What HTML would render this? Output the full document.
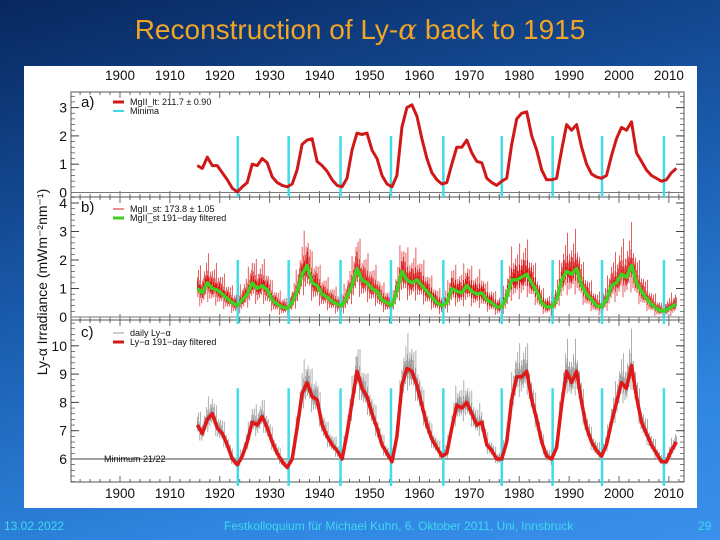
<!DOCTYPE html>
<html><head><meta charset="utf-8"><style>
html,body{margin:0;padding:0;width:720px;height:540px;overflow:hidden}
body{background:linear-gradient(165deg,#08275e 0%,#1a5cae 45%,#2f86e0 80%,#3a90ea 100%);font-family:"Liberation Sans",sans-serif;position:relative}
.t{position:absolute;white-space:nowrap}
</style></head><body>
<div class="t" style="left:0;width:720px;top:13px;text-align:center;font-size:28px;color:#f0a428">Reconstruction of Ly-<span style="font-family:'DejaVu Serif',serif;font-style:italic">α</span> back to 1915</div>
<svg id="fig" width="720" height="540" style="position:absolute;left:0;top:0" font-family="Liberation Sans, sans-serif"></svg>
<div class="t" style="left:4px;top:519px;font-size:12px;color:#40d8f0">13.02.2022</div>
<div class="t" style="left:224px;top:519px;font-size:12px;color:#40d8f0">Festkolloquium für Michael Kuhn, 6. Oktober 2011, Uni, Innsbruck</div>
<div class="t" style="left:698px;top:519px;font-size:12px;color:#40d8f0">29</div>
<script>
const startYear = 1915.5;
const mgLt = [0.95,0.85,1.25,0.95,0.95,0.7,0.45,0.15,0.02,0.2,0.35,1.0,0.95,1.2,1.05,0.55,0.35,0.25,0.2,0.3,0.8,1.7,1.85,1.9,1.1,0.95,0.75,0.45,0.25,0.2,0.5,1.5,2.1,2.05,2.1,1.5,1.2,0.6,0.3,0.2,0.6,2.3,3.0,3.1,2.7,1.9,1.2,0.7,0.45,0.3,0.35,1.0,1.6,1.6,1.85,1.4,1.1,1.05,0.5,0.35,0.25,0.4,0.5,1.7,2.6,2.8,2.85,2.0,1.5,0.8,0.45,0.45,0.5,1.5,2.4,2.2,2.4,1.6,1.0,0.65,0.55,0.5,0.6,1.3,1.9,2.3,2.2,2.5,1.4,1.1,0.8,0.6,0.5,0.4,0.45,0.7,0.85];
const mgStFiltered = [1.0,0.85,1.2,1.0,0.95,0.8,0.65,0.5,0.4,0.6,0.8,1.2,1.0,1.1,0.95,0.6,0.45,0.35,0.3,0.5,0.9,1.5,1.8,1.2,1.1,0.8,0.7,0.55,0.45,0.4,0.7,1.1,1.7,1.3,1.2,1.0,0.9,0.6,0.5,0.4,0.9,1.6,1.3,1.2,1.3,1.1,0.9,0.7,0.5,0.4,0.5,1.0,0.9,0.85,1.1,0.9,0.8,0.85,0.6,0.5,0.35,0.35,0.7,1.3,1.3,1.4,1.5,1.2,0.9,0.5,0.35,0.35,0.6,1.3,1.6,1.5,1.7,1.1,0.8,0.6,0.4,0.35,0.6,1.1,1.2,1.5,1.4,1.8,1.2,0.9,0.65,0.45,0.3,0.2,0.25,0.35,0.45];
const lyaFiltered = [7.2,6.9,7.4,7.6,7.1,6.9,6.5,6.0,5.8,6.1,6.6,7.3,7.2,7.5,7.1,6.6,6.2,5.9,5.7,6.0,7.1,8.3,8.7,8.2,8.1,7.2,6.8,6.5,6.3,6.0,6.9,8.0,9.1,8.5,8.2,7.6,7.1,6.5,6.2,5.9,6.8,8.6,9.2,9.1,8.6,7.9,7.2,6.7,6.4,6.1,6.2,7.1,7.9,7.8,8.0,7.6,7.2,7.3,6.5,6.3,6.0,6.0,6.6,8.1,8.9,8.9,9.1,8.1,7.4,6.6,6.1,6.0,6.4,7.9,9.1,8.7,9.1,8.0,7.1,6.6,6.3,6.1,6.5,7.3,8.0,8.7,8.5,9.3,8.2,7.3,6.9,6.5,6.2,5.9,5.9,6.3,6.6];
const minimaYears = [1923.6,1933.8,1944.2,1954.3,1964.8,1976.5,1986.7,1996.6,2009.0];
const yearTicks = [1900,1910,1920,1930,1940,1950,1960,1970,1980,1990,2000,2010];
const aTicks = [0,1,2,3];
const bTicks = [0,1,2,3,4];
const cTicks = [6,7,8,9,10];
const minimumLevel = 6;

const NS='http://www.w3.org/2000/svg', svg=document.getElementById('fig');
function el(tag,attrs,parent){const e=document.createElementNS(NS,tag);for(const k in attrs)e.setAttribute(k,attrs[k]);(parent||svg).appendChild(e);return e;}
const L=71,R=684;
const X=y=>120+(y-1900)*4.99;
const Ya=v=>192.5-v*28.3, Yb=v=>317-v*28.5, Yc=v=>459-(v-6)*28.3;

const bg=el('rect',{x:24,y:66,width:673,height:442,fill:'#fff'});



function frame(top,bot,name){const r=el('rect',{x:L,y:top,width:R-L,height:bot-top,fill:'none',stroke:'#555','stroke-width':1});


for(let y=1890;y<=2013;y+=2){const x=X(y);if(x<L||x>R)continue;const big=y%10==0;
el('line',{x1:x,x2:x,y1:top,y2:top+(big?6:3),stroke:'#444','stroke-width':0.8});
el('line',{x1:x,x2:x,y1:bot,y2:bot-(big?6:3),stroke:'#444','stroke-width':0.8});}}
frame(92,197,'panel-a-frame');frame(197,320,'panel-b-frame');frame(320,482,'panel-c-frame');

function yaxis(ticks,Y,top,bot,name,minor){ticks.forEach(v=>{const y=Y(v);
const t=el('text',{x:67,y:y+5,'text-anchor':'end','font-size':14,fill:'#111'});t.textContent=v;


el('line',{x1:L,x2:L+8,y1:y,y2:y,stroke:'#444'});el('line',{x1:R,x2:R-8,y1:y,y2:y,stroke:'#444'});});
for(let i=0;i<60;i++){const y=Y(ticks[0]-1+i*minor);if(y<top||y>bot)continue;el('line',{x1:L,x2:L+4,y1:y,y2:y,stroke:'#444','stroke-width':0.7});el('line',{x1:R,x2:R-4,y1:y,y2:y,stroke:'#444','stroke-width':0.7});}}
yaxis(aTicks,Ya,92,197,'panel-a-y',0.2);yaxis(bTicks,Yb,197,320,'panel-b-y',0.2);yaxis(cTicks,Yc,320,482,'panel-c-y',0.2);

yearTicks.forEach(y=>{[80,498].forEach(ty=>{const t=el('text',{x:X(y),y:ty,'text-anchor':'middle','font-size':13.5,fill:'#111'});t.textContent=y;

});});

el('line',{x1:L,x2:R,y1:Ya(0),y2:Ya(0),stroke:'#777'});
el('line',{x1:L,x2:R,y1:Yb(0),y2:Yb(0),stroke:'#777'});
const ml=el('line',{x1:L,x2:R,y1:Yc(minimumLevel),y2:Yc(minimumLevel),stroke:'#444'});



const pat=[0.9,-0.6,1.6,-0.3,0.5,-0.9,2.2,-0.5,0.2,-0.7,1.1,-0.4,0.7,-1.0,1.4,-0.2];
function interp(arr,t){const i=Math.floor(t),f=t-i;return arr[Math.min(i,arr.length-1)]*(1-f)+arr[Math.min(i+1,arr.length-1)]*f;}
function band(arr,Y,amp,color,w,name){const g=el('g',{});
let n=0;const end=arr.length-1;for(let t=0;t<=end;t+=0.1){const v=interp(arr,t);const a=amp(v);const p=pat[n%pat.length],q=pat[(n*7+3)%pat.length];n++;
el('line',{x1:X(startYear+t),x2:X(startYear+t),y1:Y(v+a*Math.abs(p)),y2:Y(v-a*Math.abs(q)*0.6),stroke:color,'stroke-width':w},g);}}
band(mgStFiltered,Yb,v=>0.12+v*0.32,'#d81818',0.7,'mgii-st-daily');
band(lyaFiltered,Yc,v=>0.1+(v-5.5)*0.13,'#9a9a9a',0.8,'lya-daily');

minimaYears.forEach(m=>{[[Ya(2),197],[Yb(2),324],[Yc(8.5),486]].forEach(([y1,y2])=>{const l=el('line',{x1:X(m),x2:X(m),y1:y1,y2:y2,stroke:'#40dce8','stroke-width':2.5});

});});

function line(arr,Y,color,w,name){const d=arr.map((v,i)=>(i?'L':'M')+X(startYear+i).toFixed(1)+' '+Y(v).toFixed(1)).join('');
const p=el('path',{d:d,fill:'none',stroke:color,'stroke-width':w,'stroke-linejoin':'round'});

}
line(mgLt,Ya,'#d01818',3,'mgii-lt-line');
line(mgStFiltered,Yb,'#40d020',3.5,'mgii-st-filtered-line');
line(lyaFiltered,Yc,'#e01818',3.5,'lya-filtered-line');

function txt(x,y,s,sz,name){const t=el('text',{x:x,y:y,'font-size':sz,fill:'#111'});t.textContent=s;

}
function leg(y,color,w,label,name){el('line',{x1:113,x2:124,y1:y,y2:y,stroke:color,'stroke-width':w});txt(130,y+3,label,9,name);}
txt(81,107,'a)',15,'panel-a-label');txt(81,212,'b)',15,'panel-b-label');txt(81,337,'c)',15,'panel-c-label');
leg(102,'#d01818',3,'MgII_lt:  211.7 ±  0.90','legend-mgii-lt');leg(111,'#40dce8',2,'Minima','legend-minima');
leg(209,'#d01818',1,'MgII_st:  173.8 ±  1.05','legend-mgii-st');leg(218,'#40d020',3,'MgII_st 191−day filtered','legend-mgii-st-filtered');
leg(333,'#999',1,'daily Ly−α','legend-daily-lya');leg(342,'#d01818',3,'Ly−α 191−day filtered','legend-lya-filtered');
txt(104,462,'Minimum 21/22',9,'minimum-label');
const yt=el('text',{x:0,y:0,'font-size':14,fill:'#111','text-anchor':'middle',transform:'translate(47,282) rotate(-90)'});
yt.textContent='Ly-α Irradiance (mWm⁻²nm⁻¹)';


</script>
</body></html>
